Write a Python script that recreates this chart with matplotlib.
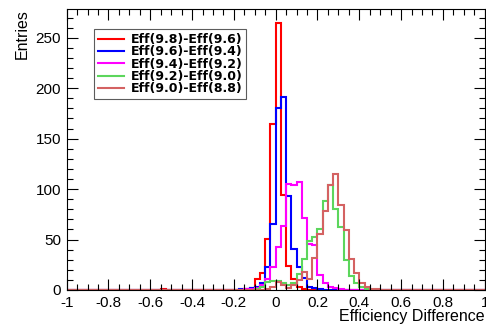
import numpy as np
import matplotlib
matplotlib.use('Agg')
import matplotlib.pyplot as plt
from matplotlib.ticker import MultipleLocator

plt.rcParams['font.family'] = ['Liberation Sans', 'DejaVu Sans']

# binning: 80 bins over [-1, 1]
nbins = 80
xlo, xhi = -1.0, 1.0
edges = np.linspace(xlo, xhi, nbins + 1)

# counts, for the bins starting at -0.175
first_edge = -0.175
red_vals = [0, 1, 2, 11, 17, 51, 165, 265, 94, 24, 11, 3, 1, 0, 0, 0, 0, 0, 0, 0, 0, 0, 0, 0, 0, 0, 0, 0]
blue_vals = [1, 1, 2, 3, 7, 23, 65, 180, 191, 93, 41, 23, 12, 3, 2, 1, 0, 0, 0, 0, 0, 0, 0, 0, 0, 0, 0, 0]
magenta_vals = [0, 1, 1, 2, 5, 11, 23, 43, 63, 105, 104, 107, 71, 46, 45, 15, 7, 3, 2, 1, 0, 0, 0, 0, 0, 0, 0, 0]
green_vals = [0, 0, 0, 1, 3, 8, 9, 9, 7, 5, 7, 16, 31, 49, 53, 60, 88, 104, 80, 62, 30, 14, 7, 3, 1, 0, 0, 0]
salmon_vals = [0, 0, 0, 0, 0, 1, 3, 8, 5, 2, 5, 10, 18, 11, 32, 55, 78, 104, 115, 84, 59, 31, 17, 7, 3, 1, 1, 0]
# single stray entry of the first series
red_extra_x = -0.54
red_extra_n = 1

labels = ['Eff(9.8)-Eff(9.6)', 'Eff(9.6)-Eff(9.4)', 'Eff(9.4)-Eff(9.2)',
          'Eff(9.2)-Eff(9.0)', 'Eff(9.0)-Eff(8.8)']
colors = ['#ff0000', '#0000ff', '#ff00ff', '#5cd65c', '#d46262']


def fill(vals):
    h = np.zeros(nbins)
    i0 = int(round((first_edge - xlo) / (edges[1] - edges[0])))
    h[i0:i0 + len(vals)] = vals
    return h


hists = [fill(v) for v in [red_vals, blue_vals, magenta_vals, green_vals, salmon_vals]]
hists[0][np.searchsorted(edges, red_extra_x) - 1] += red_extra_n

fig = plt.figure(figsize=(4.86, 3.28), dpi=100)
ax = fig.add_axes([0.1372, 0.1159, 0.8601, 0.8567])

for h, c, lab in zip(hists, colors, labels):
    ax.stairs(h, edges, color=c, lw=1.5, label=lab, baseline=None)

ax.set_xlim(xlo, xhi)
ax.set_ylim(0, 278.5)

ax.xaxis.set_major_locator(MultipleLocator(0.2))
ax.xaxis.set_minor_locator(MultipleLocator(0.05))
ax.yaxis.set_major_locator(MultipleLocator(50))
ax.yaxis.set_minor_locator(MultipleLocator(10))
ax.tick_params(which='both', direction='in', top=True, right=True, labelsize=11, width=0.8)
ax.tick_params(which='major', length=8, pad=4)
ax.tick_params(which='minor', length=4)
ax.set_xticks(np.arange(-1, 1.01, 0.2))
ax.set_xticklabels(['-1', '-0.8', '-0.6', '-0.4', '-0.2', '0', '0.2', '0.4', '0.6', '0.8', '1'])
for s in ax.spines.values():
    s.set_linewidth(0.8)

# axis titles placed like the ROOT canvas (right / top aligned)
fig.text(485 / 486, 1 - 316 / 328, 'Efficiency Difference', fontsize=11.5, ha='right', va='center')
ax.set_ylabel('Entries', fontsize=11.5, loc='top', labelpad=4)

leg = ax.legend(loc='upper left', bbox_to_anchor=(0.065, 0.928), frameon=True, fancybox=False,
                edgecolor='#333333', prop={'family': 'DejaVu Sans', 'weight': 'bold', 'size': 9.0},
                handlelength=2.1, handletextpad=0.55, labelspacing=-0.05, borderpad=0.3,
                borderaxespad=0)
leg.get_frame().set_linewidth(0.8)

fig.savefig('out.png', dpi=100)
